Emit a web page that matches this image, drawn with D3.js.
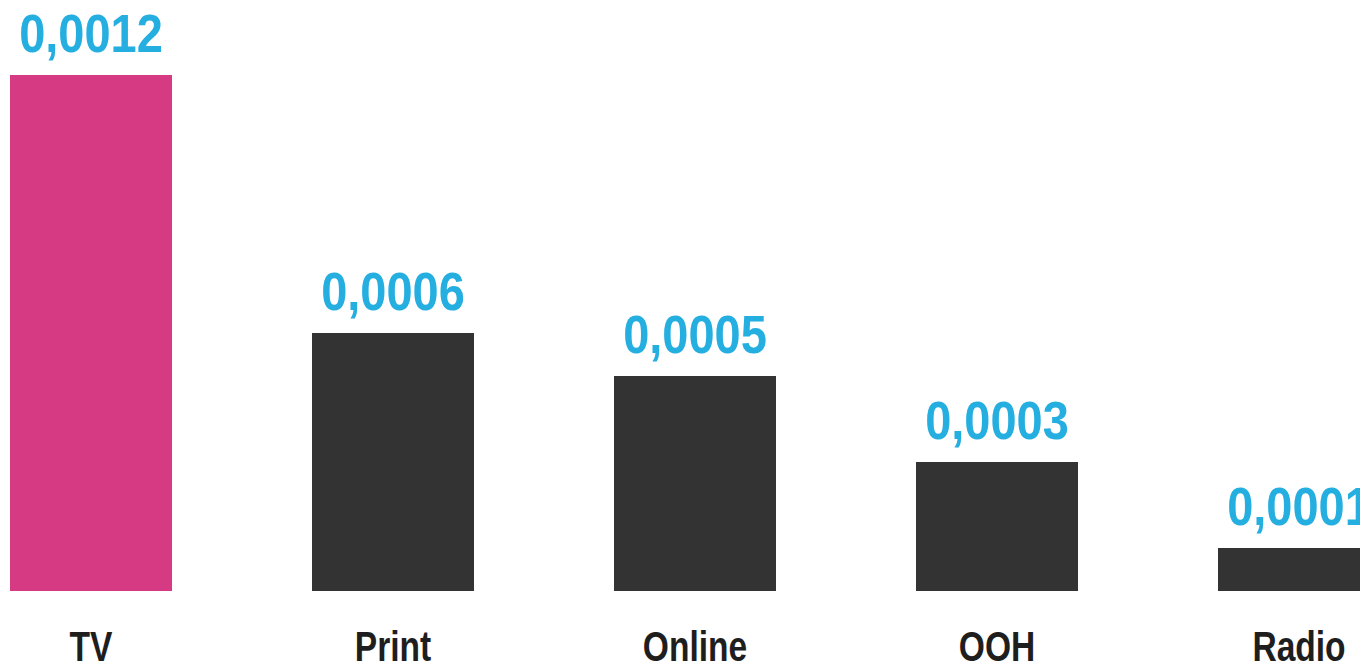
<!DOCTYPE html>
<html>
<head>
<meta charset="utf-8">
<script src="https://cdn.jsdelivr.net/npm/d3@7"></script>
<style>
  body { margin: 0; background: #fff; overflow: hidden; }
  text { font-family: "Liberation Sans", Arial, sans-serif; font-weight: bold; }
</style>
</head>
<body>
<script>
// chart data
const categories = ["TV", "Print", "Online", "OOH", "Radio"];
const values = [0.0012, 0.0006, 0.0005, 0.0003, 0.0001];
const valueLabels = ["0,0012", "0,0006", "0,0005", "0,0003", "0,0001"];
const barColors = ["#d63a82", "#333333", "#333333", "#333333", "#333333"];

const w = 1360;
const h = 664;

const svg = d3.select("body")
    .append("svg")
    .attr("width", w)
    .attr("height", h);

const xScale = d3.scaleBand()
    .domain(categories)
    .range([10, 1380])
    .paddingInner(0.4636)
    .paddingOuter(0);

const yScale = d3.scaleLinear()
    .domain([0, 0.0012])
    .range([591, 75]);

// squeeze text horizontally to mimic a condensed face
function condense(sel, k) {
    sel.each(function() {
        const len = this.getComputedTextLength();
        d3.select(this)
            .attr("textLength", len * k)
            .attr("lengthAdjust", "spacingAndGlyphs");
    });
}

svg.selectAll("rect")
    .data(values)
    .enter()
    .append("rect")
    .attr("x", (d, i) => xScale(categories[i]))
    .attr("y", d => yScale(d))
    .attr("width", xScale.bandwidth())
    .attr("height", d => yScale(0) - yScale(d))
    .attr("fill", (d, i) => barColors[i]);

// value labels above bars
svg.selectAll(".val")
    .data(values)
    .enter()
    .append("text")
    .attr("class", "val")
    .attr("x", (d, i) => xScale(categories[i]) + xScale.bandwidth() / 2)
    .attr("y", d => yScale(d) - 23)
    .attr("text-anchor", "middle")
    .attr("font-size", 54)
    .attr("fill", "#25aee0")
    .text((d, i) => valueLabels[i])
    .call(condense, 0.87);

// category axis, no line or ticks
const xAxis = d3.axisBottom(xScale).tickSize(0).tickPadding(0);
const gx = svg.append("g")
    .attr("transform", "translate(0,591)")
    .call(xAxis);
gx.select(".domain").remove();
gx.selectAll("text")
    .attr("dy", null)
    .attr("y", 70)
    .attr("font-size", 43)
    .attr("font-family", null)
    .attr("fill", "#1e1e1e")
    .call(condense, 0.78);
</script>
</body>
</html>
